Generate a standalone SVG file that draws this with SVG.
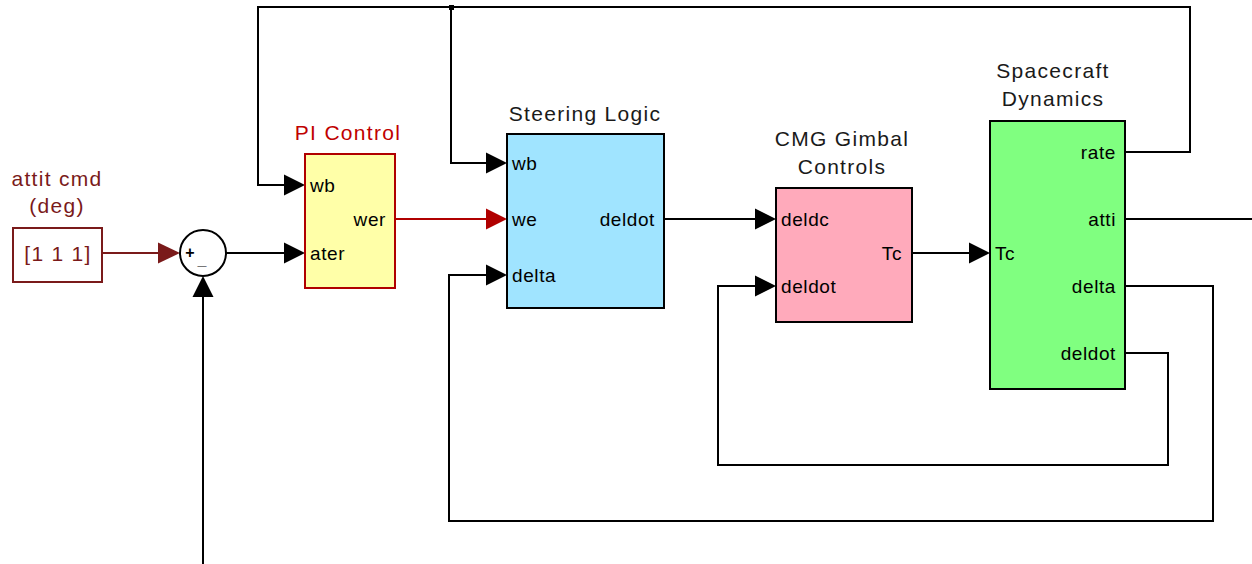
<svg xmlns="http://www.w3.org/2000/svg" width="1252" height="564" viewBox="0 0 1252 564">
<style>
.t{font-family:"Liberation Sans",Arial,sans-serif;font-size:21px;letter-spacing:1.3px;fill:#1a1a1a;text-anchor:middle}
.p{font-family:"Liberation Sans",Arial,sans-serif;font-size:19px;letter-spacing:0.6px;fill:#000}
.pe{text-anchor:end}
.blk{stroke:#000;stroke-width:2}
.w{fill:none;stroke:#000;stroke-width:2}
.wr{fill:none;stroke:#b00000;stroke-width:2}
.wm{fill:none;stroke:#7a1a1a;stroke-width:2}
.ah{fill:#000}
</style>
<rect width="1252" height="564" fill="#fff"/>
<g id="connectors">
  <path class="wm" d="M102,253 H160"/>
  <polygon fill="#7a1a1a" points="158,242.5 180,253 158,263.5"/>
  <path class="w" d="M226,253 H287"/>
  <polygon class="ah" points="284,242.5 305,253 284,263.5"/>
  <path class="w" d="M203,564 V294"/>
  <polygon class="ah" points="192.5,297 203,276 213.5,297"/>
  <path class="w" d="M1125,152 H1190 V7 H258 V185 H289"/>
  <polygon class="ah" points="284,174.5 305,185 284,195.5"/>
  <path class="w" d="M451,7 V163 H491"/>
  <rect x="449" y="5" width="5" height="5" fill="#000"/>
  <polygon class="ah" points="486,152.5 507,163 486,173.5"/>
  <path class="wr" d="M395,219 H489"/>
  <polygon fill="#b00000" points="486,208.5 507,219 486,229.5"/>
  <path class="w" d="M664,219 H758"/>
  <polygon class="ah" points="755,208.5 776,219 755,229.5"/>
  <path class="w" d="M912,253 H972"/>
  <polygon class="ah" points="969,242.5 990,253 969,263.5"/>
  <path class="w" d="M1125,219 H1252"/>
  <path class="w" d="M1125,286 H1213 V521 H449 V275 H489"/>
  <polygon class="ah" points="486,264.5 507,275 486,285.5"/>
  <path class="w" d="M1125,353 H1168 V465 H718 V286 H758"/>
  <polygon class="ah" points="755,275.5 776,286 755,296.5"/>
</g>
<g id="const">
  <text class="t" x="57" y="186" style="fill:#7a1a1a">attit cmd</text>
  <text class="t" x="57" y="213" style="fill:#7a1a1a">(deg)</text>
  <rect x="13" y="228" width="89" height="54" fill="#fff" stroke="#7a1a1a" stroke-width="2"/>
  <text class="t" x="58" y="261" style="fill:#7a1a1a">[1 1 1]</text>
</g>
<g id="sum">
  <circle cx="203" cy="253" r="23" fill="#fff" stroke="#000" stroke-width="2"/>
  <text x="190" y="258" font-family="Liberation Sans,Arial,sans-serif" font-size="16" font-weight="bold" text-anchor="middle" fill="#000">+</text>
  <text x="202" y="265" font-family="Liberation Sans,Arial,sans-serif" font-size="16" font-weight="bold" text-anchor="middle" fill="#000">_</text>
</g>
<g id="pi">
  <text class="t" x="348" y="140" style="fill:#c00000">PI Control</text>
  <rect x="305" y="154" width="90" height="134" fill="#ffffa8" stroke="#b00000" stroke-width="2"/>
  <text class="p" x="310" y="192">wb</text>
  <text class="p" x="310" y="260">ater</text>
  <text class="p pe" x="386" y="226">wer</text>
</g>
<g id="steering">
  <text class="t" x="585" y="121">Steering Logic</text>
  <rect class="blk" x="507" y="134" width="157" height="174" fill="#a0e4ff"/>
  <text class="p" x="512" y="170">wb</text>
  <text class="p" x="512" y="226">we</text>
  <text class="p" x="512" y="282">delta</text>
  <text class="p pe" x="655" y="226">deldot</text>
</g>
<g id="cmg">
  <text class="t" x="842" y="146">CMG Gimbal</text>
  <text class="t" x="842" y="174">Controls</text>
  <rect class="blk" x="776" y="188" width="136" height="134" fill="#ffaabb"/>
  <text class="p" x="781" y="226">deldc</text>
  <text class="p" x="781" y="293">deldot</text>
  <text class="p pe" x="902" y="260">Tc</text>
</g>
<g id="spacecraft">
  <text class="t" x="1053" y="78">Spacecraft</text>
  <text class="t" x="1053" y="106">Dynamics</text>
  <rect class="blk" x="990" y="121" width="135" height="268" fill="#80ff80"/>
  <text class="p" x="995" y="260">Tc</text>
  <text class="p pe" x="1116" y="159">rate</text>
  <text class="p pe" x="1116" y="226">atti</text>
  <text class="p pe" x="1116" y="293">delta</text>
  <text class="p pe" x="1116" y="360">deldot</text>
</g>
</svg>
